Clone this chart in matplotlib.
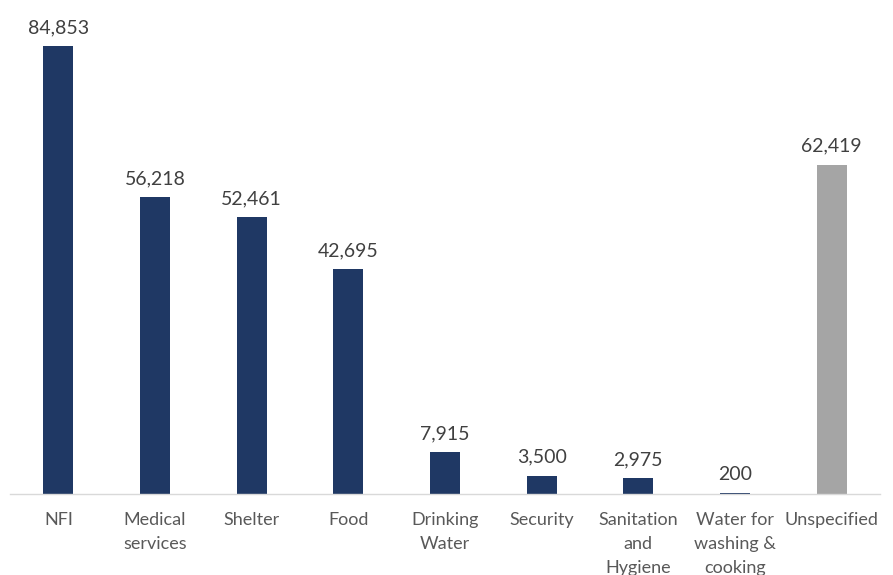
import matplotlib
matplotlib.use("Agg")
import matplotlib.pyplot as plt

categories = ["NFI", "Medical\nservices", "Shelter", "Food", "Drinking\nWater",
              "Security", "Sanitation\nand\nHygiene", "Water for\nwashing &\ncooking",
              "Unspecified"]
values = [84853, 56218, 52461, 42695, 7915, 3500, 2975, 200, 62419]
colors = ["#1F3864"] * 8 + ["#A5A5A5"]

plt.rcParams["font.family"] = ["Lato", "DejaVu Sans"]

fig = plt.figure(figsize=(8.93, 5.75), dpi=100)
ax = fig.add_axes([0.0112, 0.1409, 0.9742, 0.826])

x = list(range(len(categories)))
bars = ax.bar(x, values, width=0.31, color=colors)

for xi, v in zip(x, values):
    ax.annotate(f"{v:,}", (xi, v), xytext=(0, 7), textcoords="offset points",
                ha="center", va="bottom", fontsize=14, color="#404040")

ax.set_xlim(-0.5, 8.5)
ax.set_ylim(0, 90000)
ax.set_xticks(x)
ax.set_xticklabels(categories, fontsize=13, color="#595959", linespacing=1.62, va="top")
ax.tick_params(axis="x", length=0, pad=13)
ax.set_yticks([])
for side in ["top", "right", "left"]:
    ax.spines[side].set_visible(False)
ax.spines["bottom"].set_color("#D9D9D9")
ax.spines["bottom"].set_linewidth(1)

fig.savefig("out.png", dpi=100)
